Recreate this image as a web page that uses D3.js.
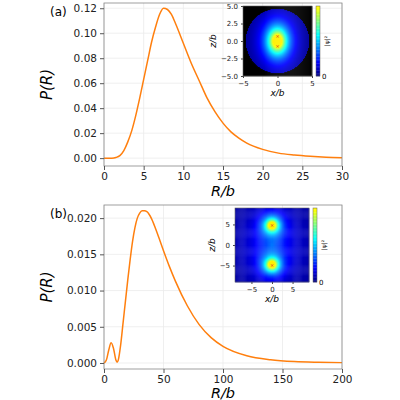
<!DOCTYPE html>
<html><head><meta charset="utf-8">
<script src="https://cdn.jsdelivr.net/npm/d3@7"></script>
<style>body{margin:0;background:#fff}text{font-family:"DejaVu Sans",sans-serif}</style>
</head><body>
<script>
// panel (a)
const rA = [0,1,1.5,2,2.5,3,3.5,4,4.5,5,5.5,6,6.5,7,7.5,8,8.5,9,10,11,12,13,14,15,16,17,18,20,22,24,26,28,30];
const pA = [0,0,0.0005,0.002,0.006,0.013,0.022,0.034,0.048,0.063,0.078,0.093,0.105,0.115,0.12,0.119,0.115,0.108,0.092,0.076,0.062,0.048,0.037,0.028,0.021,0.016,0.012,0.007,0.004,0.0025,0.0015,0.0008,0.0004];
// panel (b)
const rB = [0,2,4,6,8,10,11,12,14,16,18,20,22,24,26,28,30,32,34,36,38,40,45,50,55,60,70,80,90,100,120,140,160,180,200];
const pB = [0,0.0004,0.0018,0.0028,0.0020,0.0004,0.0001,0.0004,0.0025,0.0055,0.0085,0.0115,0.0143,0.0168,0.0187,0.0200,0.0207,0.0210,0.0210,0.0209,0.0205,0.0199,0.0178,0.0155,0.0133,0.0113,0.0079,0.0053,0.0035,0.0023,0.0010,0.00045,0.0002,0.0001,0.00005];
const ticksA = [0,5,10,15,20,25,30], yticksA = [0,0.02,0.04,0.06,0.08,0.10,0.12];
const ticksB = [0,50,100,150,200], yticksB = [0,0.005,0.010,0.015,0.020];

const svg = d3.select("body").append("svg").attr("width",400).attr("height",400);

// jet truncated at yellow
function cmap(t){
  t = 0.64*Math.max(0, Math.min(1, t));
  const c = v => Math.max(0, Math.min(1, v));
  const r = c(1.5 - Math.abs(4*t - 3)), g = c(1.5 - Math.abs(4*t - 2)), b = c(1.5 - Math.abs(4*t - 1));
  return d3.rgb(r*255, g*255, b*255);
}

function panel(o){
  const x = d3.scaleLinear().domain(o.xd).range([104,342]);
  const y = d3.scaleLinear().domain(o.yd).range([o.y1, o.y0]);
  const g = svg.append("g");
  g.selectAll(".gx").data(o.xt).join("line").attr("x1",x).attr("x2",x).attr("y1",o.y0).attr("y2",o.y1).attr("stroke","#ebebeb").attr("stroke-width",0.8);
  g.selectAll(".gy").data(o.yt).join("line").attr("y1",y).attr("y2",y).attr("x1",104).attr("x2",342).attr("stroke","#ebebeb").attr("stroke-width",0.8);
  g.append("path").datum(o.r.map((r,i)=>[r,o.p[i]]))
    .attr("d", d3.line().x(d=>x(d[0])).y(d=>y(d[1])).curve(d3.curveMonotoneX))
    .attr("fill","none").attr("stroke","#ff7f0e").attr("stroke-width",1.5);
  g.append("rect").attr("x",104).attr("y",o.y0).attr("width",238).attr("height",o.y1-o.y0).attr("fill","none").attr("stroke","#888").attr("stroke-width",0.8);
  const ax = g.append("g").attr("transform",`translate(0,${o.y1})`).call(d3.axisBottom(x).tickValues(o.xt).tickSize(4).tickFormat(d3.format("d")));
  const ay = g.append("g").attr("transform","translate(104,0)").call(d3.axisLeft(y).tickValues(o.yt).tickSize(4).tickFormat(d3.format(o.yf)));
  [ax,ay].forEach(a=>{a.select(".domain").remove();a.selectAll("line").attr("stroke","#555");a.selectAll("text").attr("font-size",10.5).attr("fill","#222");});
  g.append("text").attr("x",223).attr("y",o.y1+o.xl).attr("text-anchor","middle").attr("font-size",14.5).attr("font-style","italic").text("R/b");
  g.append("text").attr("transform",`translate(52,${(o.y0+o.y1)/2}) rotate(-90)`).attr("text-anchor","middle").attr("font-size",15).attr("font-style","italic").text("P(R)");
  g.append("text").attr("x",50).attr("y",o.y0+13).attr("font-size",12).text(o.lab);
}

function inset(o){
  const n = 70;
  const sx = d3.scaleLinear().domain(o.xd).range([o.x, o.x+o.w]);
  const sz = d3.scaleLinear().domain(o.zd).range([o.y+o.h, o.y]);
  const cells = [];
  for(let i=0;i<n;i++) for(let j=0;j<n;j++){
    const xv = o.xd[0]+(i+0.5)*(o.xd[1]-o.xd[0])/n, zv = o.zd[1]-(j+0.5)*(o.zd[1]-o.zd[0])/n;
    cells.push({i,j,v:o.f(xv,zv)});
  }
  const cw = o.w/n, ch = o.h/n;
  svg.append("g").selectAll("rect").data(cells).join("rect")
    .attr("x",d=>o.x+d.i*cw).attr("y",d=>o.y+d.j*ch).attr("width",cw+0.3).attr("height",ch+0.3)
    .attr("fill",d=>d.v<0 ? "#000" : cmap(d.v));
  o.marks.forEach(m=>svg.append("text").attr("x",sx(m[0])).attr("y",sz(m[1])+2).attr("text-anchor","middle").attr("font-size",5).attr("fill","#e03020").text("×"));
  const ax = svg.append("g").attr("transform",`translate(0,${o.y+o.h})`).call(d3.axisBottom(sx).tickValues(o.xt).tickSize(2));
  const az = svg.append("g").attr("transform",`translate(${o.x},0)`).call(d3.axisLeft(sz).tickValues(o.zt).tickSize(2).tickFormat(o.zf));
  [ax,az].forEach(a=>{a.select(".domain").remove();a.selectAll("text").attr("font-size",7).attr("fill","#222");a.selectAll("line").attr("stroke","#444");});
  svg.append("rect").attr("x",o.x).attr("y",o.y).attr("width",o.w).attr("height",o.h).attr("fill","none").attr("stroke","#666").attr("stroke-width",0.6);
  svg.append("text").attr("x",o.x+o.w/2).attr("y",o.y+o.h+20).attr("text-anchor","middle").attr("font-size",9).attr("font-style","italic").text("x/b");
  svg.append("text").attr("transform",`translate(${o.x-o.zl},${o.y+o.h/2}) rotate(-90)`).attr("text-anchor","middle").attr("font-size",9).attr("font-style","italic").text("z/b");
  // colorbar
  const cb = d3.range(0,1,0.02);
  svg.append("g").selectAll("rect").data(cb).join("rect")
    .attr("x",o.cx).attr("width",4).attr("y",d=>o.y+o.h-(d+0.02)*o.h).attr("height",o.h*0.02+0.3).attr("fill",d=>cmap(d+0.01));
  svg.append("rect").attr("x",o.cx).attr("y",o.y).attr("width",4).attr("height",o.h).attr("fill","none").attr("stroke","#666").attr("stroke-width",0.5);
  svg.append("text").attr("x",o.cx+6).attr("y",o.y+o.h+3).attr("font-size",7).text("0");
  svg.append("text").attr("transform",`translate(${o.cx+13},${o.y+o.h/2}) rotate(-90)`).attr("text-anchor","middle").attr("font-size",6).text("|ψ|²");
}

panel({xd:[0,30], yd:[-0.0063,0.1242], y0:3, y1:166, xl:30, xt:ticksA, yt:yticksA, yf:".2f", r:rA, p:pA, lab:"(a)"});
panel({xd:[0,200], yd:[-0.00083,0.02181], y0:205, y1:369, xl:29, xt:ticksB, yt:yticksB, yf:".3f", r:rB, p:pB, lab:"(b)"});

inset({x:243,y:6,w:69,h:70,xd:[-5,5],zd:[-5,5],xt:[-5,0,5],zt:[-5,-2.5,0,2.5,5],zf:d3.format(".1f"),zl:27,cx:316,
  marks:[[0,0.7],[0,-0.7]],
  f:(x,z)=>{const r=Math.sqrt(x*x+z*z/1.8); if(Math.hypot(x,z)>4.6) return -1; return Math.min(1,1.7*Math.exp(-r/1.25));} });
inset({x:235,y:208,w:74,h:74,xd:[-9,9],zd:[-9,9],xt:[-5,0,5],zt:[-5,0,5],zf:d3.format("d"),zl:20,cx:313,
  marks:[[0,4.8],[0,-4.8]],
  f:(x,z)=>{const a=Math.hypot(x,z-4.8),b=Math.hypot(x,z+4.8);return Math.min(1,1.6*Math.exp(-a/1.3)+1.6*Math.exp(-b/1.3)+0.3*Math.exp(-Math.hypot(x/1.3,z/1.6)/5));} });
</script>
</body></html>
